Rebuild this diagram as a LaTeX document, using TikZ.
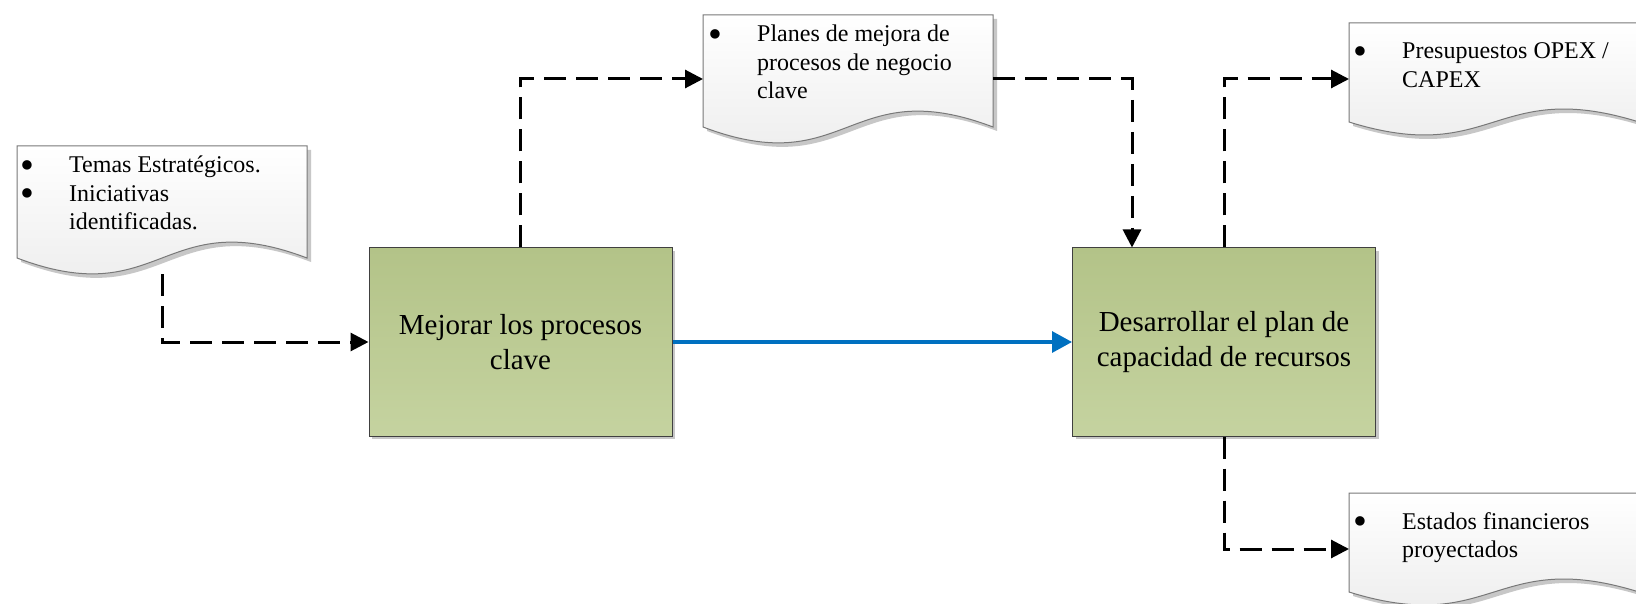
\documentclass[tikz,border=0pt]{standalone}
\usepackage{fontspec}
\setmainfont{Liberation Serif}
\usetikzlibrary{arrows.meta,shadows}

\definecolor{boxtop}{RGB}{179,195,136}
\definecolor{boxbot}{RGB}{197,211,160}
\definecolor{boxline}{RGB}{64,64,64}
\definecolor{docline}{RGB}{120,120,120}
\definecolor{docbot}{RGB}{234,234,234}
\definecolor{flowblue}{RGB}{0,112,192}

% bullet lists inside the document shapes
\newlength\bulw
\setlength\bulw{49pt}
\newcommand\bitem[1]{\hbox{\makebox[\bulw][l]{\smash{\raisebox{-5.5pt}{\scalebox{1.65}{\textbullet}}}}#1}}
\newcommand\citem[1]{\hbox{\hspace{\bulw}#1}}
\newcommand\doclines[1]{\vtop{\fontsize{24}{28.5}\selectfont #1}}

% outline of a document shape: node, side height, upper and lower control depth
\newcommand\docpath[4]{%
  (#1.north west) -- (#1.north east) -- ([yshift=-#2pt]#1.north east)
  .. controls ([yshift=-#3pt]#1.north) and ([yshift=-#4pt]#1.north) ..
  ([yshift=-#2pt]#1.north west) -- cycle}

\tikzset{
  docframe/.style={inner sep=0pt, outer sep=0pt, minimum width=290pt, anchor=north west},
  docbody/.style={draw=docline, line width=1pt, top color=white, bottom color=docbot,
    preaction={fill=black!22, transform canvas={xshift=4pt,yshift=-4pt}}},
  doctext/.style={inner sep=0pt, anchor=base west, text=black},
  process/.style={draw=boxline, line width=1pt, top color=boxtop, bottom color=boxbot,
    minimum width=303pt, minimum height=188pt, inner sep=0pt, align=center,
    font=\fontsize{29}{35}\selectfont,
    drop shadow={shadow xshift=3pt, shadow yshift=-3pt, fill=black!22, opacity=1}},
  dashflow/.style={draw=black, line width=3pt, dash pattern=on 22pt off 10pt,
    -{Triangle[length=18pt,width=18pt]}},
  blueflow/.style={draw=flowblue, line width=3.2pt,
    -{Triangle[length=20pt,width=21pt]}}
}

\begin{document}
\begin{tikzpicture}[x=1pt,y=-1pt]
\useasboundingbox[fill=white] (0,0) rectangle (1636,604);

% document frames
\node[docframe, minimum height=128pt] (d1) at (17,146) {};
\node[docframe, minimum height=128pt] (d2) at (703,15) {};
\node[docframe, minimum height=112pt] (d3) at (1349,23) {};
\node[docframe, minimum height=112pt] (d4) at (1349,493) {};

\path[docbody] \docpath{d1}{112}{57}{167};
\path[docbody] \docpath{d2}{112}{57}{167};
\path[docbody] \docpath{d3}{99}{54}{144};
\path[docbody] \docpath{d4}{99}{54}{144};

\node[doctext] (t1) at (20,173) {\doclines{%
  \bitem{Temas Estratégicos.}\bitem{Iniciativas}\citem{identificadas.}}};
\node[doctext] (t2) at (708,42) {\doclines{%
  \bitem{Planes de mejora de}\citem{procesos de negocio}\citem{clave}}};
\node[doctext] (t3) at (1353,59) {\doclines{%
  \bitem{Presupuestos OPEX /}\citem{CAPEX}}};
\node[doctext] (t4) at (1353,529) {\doclines{%
  \bitem{Estados financieros}\citem{proyectados}}};

% process boxes
\node[process] (b1) at (520.5,342) {Mejorar los procesos\\clave};
\node[process] (b2) at (1224,342) {Desarrollar el plan de\\capacidad de recursos};

% connectors
\draw[dashflow] (d1.south) |- (b1.west);
\draw[dashflow] (b1.north) |- (d2.west);
\draw[dashflow] (d2.east) -| ([xshift=60pt]b2.north west);
\draw[dashflow] (b2.north) |- (d3.west);
\draw[dashflow] (b2.south) |- (d4.west);
\draw[blueflow] (b1.east) -- (b2.west);
\end{tikzpicture}
\end{document}
